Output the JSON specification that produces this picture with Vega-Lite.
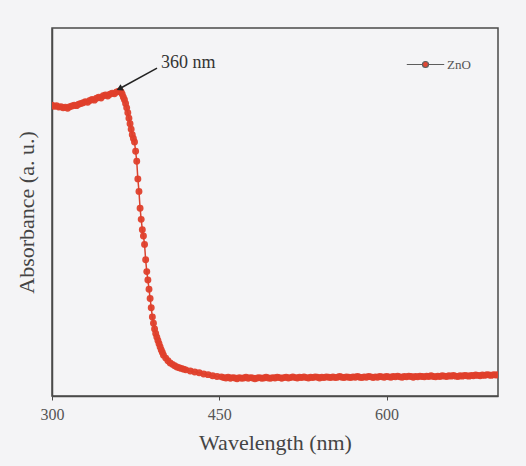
{
  "$schema": "https://vega.github.io/schema/vega-lite/v6.json",
  "width": 446,
  "height": 368,
  "autosize": {"type": "none"},
  "padding": {"left": 52, "top": 28, "right": 28, "bottom": 70},
  "background": "#f4f4f6",
  "config": {
    "view": {"stroke": "#4a4a4a", "strokeWidth": 1.5},
    "font": "Liberation Serif"
  },
  "datasets": {
    "spec": [
      {"w":300,"a":0.790},{"w":302,"a":0.787},{"w":304,"a":0.789},{"w":306,"a":0.785},{"w":308,"a":0.786},{"w":310,"a":0.783},{"w":312,"a":0.785},{"w":314,"a":0.782},{"w":316,"a":0.786},{"w":318,"a":0.788},{"w":320,"a":0.790},{"w":322,"a":0.789},{"w":324,"a":0.793},{"w":326,"a":0.795},{"w":328,"a":0.797},{"w":330,"a":0.800},{"w":332,"a":0.798},{"w":334,"a":0.803},{"w":336,"a":0.806},{"w":338,"a":0.804},{"w":340,"a":0.809},{"w":342,"a":0.812},{"w":344,"a":0.810},{"w":346,"a":0.816},{"w":348,"a":0.818},{"w":350,"a":0.815},{"w":352,"a":0.820},{"w":354,"a":0.823},{"w":356,"a":0.821},{"w":358,"a":0.826},
      {"w":360,"a":0.828},{"w":361,"a":0.829},{"w":362,"a":0.826},{"w":363,"a":0.820},{"w":364,"a":0.812},{"w":365,"a":0.805},{"w":366,"a":0.795},{"w":367,"a":0.783},{"w":368,"a":0.770},{"w":369,"a":0.755},{"w":370,"a":0.740},{"w":371,"a":0.725},{"w":372,"a":0.710},{"w":373,"a":0.700},{"w":374,"a":0.690},{"w":375,"a":0.665},{"w":376,"a":0.638},{"w":377,"a":0.590},{"w":378,"a":0.556},{"w":379,"a":0.510},{"w":380,"a":0.480},{"w":381,"a":0.452},{"w":382,"a":0.435},{"w":383,"a":0.412},{"w":384,"a":0.370},{"w":385,"a":0.338},{"w":386,"a":0.315},{"w":387,"a":0.290},{"w":388,"a":0.265},{"w":389,"a":0.240},{"w":390,"a":0.215},{"w":391,"a":0.198},{"w":392,"a":0.182},{"w":393,"a":0.170},{"w":394,"a":0.160},{"w":395,"a":0.151},{"w":396,"a":0.142},{"w":397,"a":0.133},{"w":398,"a":0.125},{"w":399,"a":0.118},{"w":400,"a":0.111},
      {"w":402,"a":0.103},{"w":404,"a":0.096},{"w":406,"a":0.090},{"w":408,"a":0.086},{"w":410,"a":0.082},{"w":412,"a":0.079},{"w":414,"a":0.077},{"w":416,"a":0.075},{"w":418,"a":0.073},{"w":420,"a":0.071},{"w":424,"a":0.068},{"w":428,"a":0.065},{"w":432,"a":0.063},{"w":436,"a":0.060},{"w":440,"a":0.058},{"w":444,"a":0.055},{"w":448,"a":0.053},
      {"w":452,"a":0.052},{"w":454,"a":0.050},{"w":456,"a":0.049},{"w":458,"a":0.051},{"w":460,"a":0.048},{"w":462,"a":0.050},{"w":464,"a":0.049},{"w":466,"a":0.047},{"w":468,"a":0.050},{"w":470,"a":0.048},{"w":472,"a":0.049},{"w":474,"a":0.051},{"w":476,"a":0.048},{"w":478,"a":0.050},{"w":480,"a":0.049},{"w":482,"a":0.047},{"w":484,"a":0.049},{"w":486,"a":0.050},{"w":488,"a":0.048},{"w":490,"a":0.049},{"w":492,"a":0.051},{"w":494,"a":0.049},{"w":496,"a":0.048},{"w":498,"a":0.050},{"w":500,"a":0.049},{"w":502,"a":0.051},{"w":504,"a":0.050},{"w":506,"a":0.048},{"w":508,"a":0.050},{"w":510,"a":0.051},{"w":512,"a":0.049},{"w":514,"a":0.050},{"w":516,"a":0.052},{"w":518,"a":0.050},{"w":520,"a":0.049},{"w":522,"a":0.051},{"w":524,"a":0.050},{"w":526,"a":0.052},{"w":528,"a":0.050},{"w":530,"a":0.049},{"w":532,"a":0.051},{"w":534,"a":0.050},{"w":536,"a":0.052},{"w":538,"a":0.051},{"w":540,"a":0.049},{"w":542,"a":0.051},{"w":544,"a":0.050},{"w":546,"a":0.052},{"w":548,"a":0.051},{"w":550,"a":0.050},{"w":552,"a":0.052},{"w":554,"a":0.050},{"w":556,"a":0.051},{"w":558,"a":0.053},{"w":560,"a":0.051},{"w":562,"a":0.050},{"w":564,"a":0.052},{"w":566,"a":0.051},{"w":568,"a":0.050},{"w":570,"a":0.052},{"w":572,"a":0.051},{"w":574,"a":0.053},{"w":576,"a":0.051},{"w":578,"a":0.050},{"w":580,"a":0.052},{"w":582,"a":0.051},{"w":584,"a":0.053},{"w":586,"a":0.052},{"w":588,"a":0.050},{"w":590,"a":0.052},{"w":592,"a":0.051},{"w":594,"a":0.053},{"w":596,"a":0.052},{"w":598,"a":0.051},{"w":600,"a":0.053},{"w":602,"a":0.052},{"w":604,"a":0.051},{"w":606,"a":0.053},{"w":608,"a":0.052},{"w":610,"a":0.054},{"w":612,"a":0.052},{"w":614,"a":0.051},{"w":616,"a":0.053},{"w":618,"a":0.052},{"w":620,"a":0.054},{"w":622,"a":0.053},{"w":624,"a":0.051},{"w":626,"a":0.053},{"w":628,"a":0.052},{"w":630,"a":0.054},{"w":632,"a":0.053},{"w":634,"a":0.052},{"w":636,"a":0.054},{"w":638,"a":0.053},{"w":640,"a":0.055},{"w":642,"a":0.053},{"w":644,"a":0.052},{"w":646,"a":0.054},{"w":648,"a":0.053},{"w":650,"a":0.055},{"w":652,"a":0.054},{"w":654,"a":0.053},{"w":656,"a":0.055},{"w":658,"a":0.054},{"w":660,"a":0.056},{"w":662,"a":0.054},{"w":664,"a":0.053},{"w":666,"a":0.055},{"w":668,"a":0.054},{"w":670,"a":0.056},{"w":672,"a":0.055},{"w":674,"a":0.054},{"w":676,"a":0.056},{"w":678,"a":0.055},{"w":680,"a":0.057},{"w":682,"a":0.056},{"w":684,"a":0.055},{"w":686,"a":0.057},{"w":688,"a":0.056},{"w":690,"a":0.058},{"w":692,"a":0.057},{"w":694,"a":0.056},{"w":696,"a":0.058},{"w":698,"a":0.057},{"w":700,"a":0.058}
    ],
    "arrow": [
      {"w":394.2,"a":0.891,"o":0},{"w":360.5,"a":0.835,"o":1}
    ],
    "label": [
      {"w":397.8,"a":0.905,"t":"360 nm"}
    ]
  },
  "layer": [
    {
      "data": {"name": "spec"},
      "mark": {"type": "line", "color": "#d9432f", "strokeWidth": 1.5, "clip": true},
      "encoding": {
        "x": {"field": "w", "type": "quantitative", "scale": {"domain": [300, 700], "nice": false},
          "axis": {"values": [300, 450, 600], "title": "Wavelength (nm)", "grid": false, "tickSize": 4, "tickColor": "#4a4a4a", "domainColor": "#4a4a4a", "domainWidth": 1.5, "labelFlush": false,
            "labelFont": "Liberation Serif", "labelFontSize": 16, "labelColor": "#555555", "labelPadding": 6,
            "titleFont": "Liberation Serif", "titleFontSize": 22, "titleFontWeight": "normal", "titleColor": "#444444", "titlePadding": 10}},
        "y": {"field": "a", "type": "quantitative", "scale": {"domain": [0, 1], "nice": false},
          "axis": {"labels": false, "ticks": false, "grid": false, "title": "Absorbance (a. u.)", "domainColor": "#4a4a4a", "domainWidth": 1.5,
            "titleFont": "Liberation Serif", "titleFontSize": 22, "titleFontWeight": "normal", "titleColor": "#444444", "titlePadding": 14}}
      }
    },
    {
      "data": {"name": "spec"},
      "transform": [{"calculate": "'ZnO'", "as": "series"}],
      "mark": {"type": "point", "filled": true, "size": 48, "opacity": 0.95, "clip": true},
      "encoding": {
        "x": {"field": "w", "type": "quantitative"},
        "y": {"field": "a", "type": "quantitative"},
        "color": {"field": "series", "type": "nominal", "scale": {"range": ["#df3f2b"]},
          "legend": {"title": null, "orient": "none", "legendX": 354, "legendY": 17,
            "symbolType": "M-1,0H-0.18M0.18,0H1M0.16,0A0.16,0.16 0 1 1 -0.16,0A0.16,0.16 0 1 1 0.16,0Z",
            "symbolSize": 1400, "symbolStrokeColor": "#555555", "symbolStrokeWidth": 1.2,
            "labelFont": "Liberation Serif", "labelFontSize": 13, "labelColor": "#555555", "labelOffset": 2}}
      }
    },
    {
      "data": {"name": "arrow"},
      "mark": {"type": "line", "color": "#222222", "strokeWidth": 1.5},
      "encoding": {
        "x": {"field": "w", "type": "quantitative"},
        "y": {"field": "a", "type": "quantitative"},
        "order": {"field": "o"}
      }
    },
    {
      "data": {"name": "arrow"},
      "transform": [{"filter": "datum.o == 1"}],
      "mark": {"type": "point", "shape": "triangle-up", "filled": true, "color": "#222222", "size": 50, "angle": 243, "opacity": 1},
      "encoding": {
        "x": {"field": "w", "type": "quantitative"},
        "y": {"field": "a", "type": "quantitative"}
      }
    },
    {
      "data": {"name": "label"},
      "mark": {"type": "text", "align": "left", "baseline": "middle", "font": "Liberation Serif", "fontSize": 18, "color": "#333333"},
      "encoding": {
        "x": {"field": "w", "type": "quantitative"},
        "y": {"field": "a", "type": "quantitative"},
        "text": {"field": "t"}
      }
    }
  ]
}
